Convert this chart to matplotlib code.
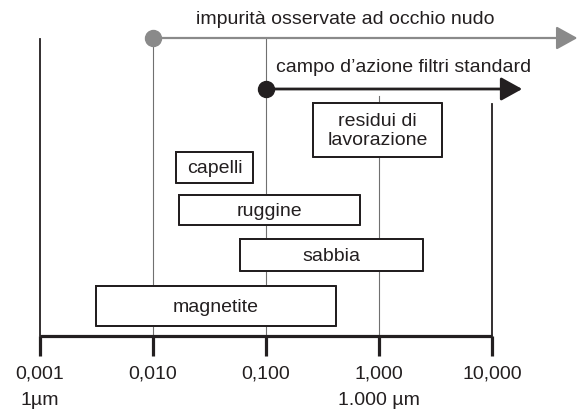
import numpy as np
import matplotlib.pyplot as plt

plt.rcParams['font.family'] = ['Liberation Sans', 'DejaVu Sans']

# decades of the particle size scale (mm)
decades = [0.001, 0.01, 0.1, 1.0, 10.0]
decade_labels = ['0,001', '0,010', '0,100', '1,000', '10,000']
sub_labels = {0.001: '1µm', 1.0: '1.000 µm'}

# size ranges of the contaminants (mm)
names = ['residui di\nlavorazione', 'capelli', 'ruggine', 'sabbia', 'magnetite']
size_min = [0.26, 0.016, 0.017, 0.059, 0.0031]
size_max = [3.6, 0.077, 0.68, 2.45, 0.42]

# ranges shown as arrows
visible_from = 0.01
visible_to = 57.0
filter_from = 0.1
filter_to = 18.5

# vertical placement of each box (top, bottom) in figure pixels
rows = [(103, 157), (152, 183), (195, 225), (239, 271), (286, 326)]

ink = '#231f20'
grey = '#8a8a8a'
thin = '#707070'
fs = 14

fig = plt.figure(figsize=(5.84, 4.15), dpi=100)
ax = fig.add_axes([0, 0, 1, 1])
ax.set_xscale('log')
px_per_dec = 113.0
x0 = 40.0
ax.set_xlim(10 ** (-3 - x0 / px_per_dec), 10 ** (-3 + (584 - x0) / px_per_dec))
ax.set_ylim(415, 0)
ax.axis('off')

base_y = 336
# vertical grid lines
ax.plot([decades[0]] * 2, [39, base_y], color=ink, lw=1.3, zorder=1)
ax.plot([decades[1]] * 2, [38, base_y], color=thin, lw=0.8, zorder=1)
ax.plot([decades[2]] * 2, [38, base_y], color=thin, lw=0.8, zorder=1)
ax.plot([decades[3]] * 2, [96, base_y], color=thin, lw=0.8, zorder=1)
ax.plot([decades[4]] * 2, [104, base_y], color=ink, lw=1.3, zorder=1)

# bottom scale with ticks
ax.plot([decades[0], decades[-1]], [base_y, base_y], color=ink, lw=2.3,
        solid_capstyle='butt', zorder=3)
for d, lab in zip(decades, decade_labels):
    ax.plot([d, d], [base_y, 356], color=ink, lw=2.3, solid_capstyle='butt', zorder=3)
    ax.text(d, 374, lab, ha='center', va='center', fontsize=fs, color=ink)
    if d in sub_labels:
        ax.text(d, 400, sub_labels[d], ha='center', va='center', fontsize=fs, color=ink)

# boxes
for name, lo, hi, (top, bot) in zip(names, size_min, size_max, rows):
    ax.fill_between([lo, hi], top, bot, facecolor='white', edgecolor=ink,
                    lw=1.4, zorder=4)
    ax.plot([lo, hi, hi, lo, lo], [top, top, bot, bot, top], color=ink, lw=1.4, zorder=5)
    xc = np.sqrt(lo * hi)
    ax.text(xc, (top + bot) / 2 + 1, name, ha='center', va='center',
            fontsize=fs, color=ink, linespacing=1.2, zorder=6)

# range arrows
ax.annotate('', xy=(visible_to, 38), xytext=(visible_from, 38),
            arrowprops=dict(arrowstyle='-|>,head_length=1.3,head_width=0.72',
                            mutation_scale=10, color=grey, lw=1.6,
                            shrinkA=0, shrinkB=0), zorder=2)
ax.plot([visible_from], [38], 'o', color=grey, ms=11.5, zorder=3)
ax.text(np.sqrt(visible_from * 10 ** 1.4), 20, 'impurità osservate ad occhio nudo',
        ha='center', va='center', fontsize=fs, color=ink)

ax.annotate('', xy=(filter_to, 89), xytext=(filter_from, 89),
            arrowprops=dict(arrowstyle='-|>,head_length=1.3,head_width=0.72',
                            mutation_scale=10, color=ink, lw=2.0,
                            shrinkA=0, shrinkB=0), zorder=2)
ax.plot([filter_from], [89], 'o', color=ink, ms=11.5, zorder=3)
ax.text(10 ** ((np.log10(filter_from) + np.log10(filter_to)) / 2 + 0.08), 67,
        'campo d\u2019azione filtri standard',
        ha='center', va='center', fontsize=fs, color=ink)

fig.savefig('out.png', dpi=100)
